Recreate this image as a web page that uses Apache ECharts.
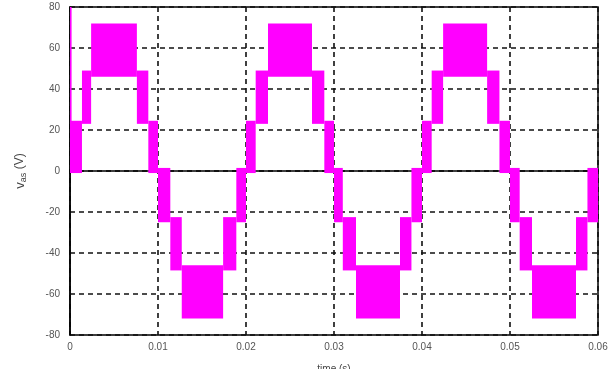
<!DOCTYPE html>
<html>
<head>
<meta charset="utf-8">
<script src="https://cdn.jsdelivr.net/npm/echarts@6/dist/echarts.min.js"></script>
<style>
  html, body { margin: 0; padding: 0; background: #fff; }
  #chart { width: 613px; height: 369px; }
</style>
</head>
<body>
<div id="chart"></div>
<script>
// switching instants (s), one band between each pair
const bandStart = [
  0, 0.00136, 0.0024, 0.0076, 0.0089,
  0.01, 0.0114, 0.0127, 0.0174, 0.0189,
  0.02, 0.0211, 0.0225, 0.0275, 0.0289,
  0.03, 0.0310, 0.0325, 0.0375, 0.0388,
  0.04, 0.0411, 0.0424, 0.0474, 0.0488,
  0.05, 0.0511, 0.0525, 0.0575, 0.0588
];
const bandEnd = [
  0.00136, 0.0024, 0.0076, 0.0089, 0.01,
  0.0114, 0.0127, 0.0174, 0.0189, 0.02,
  0.0211, 0.0225, 0.0275, 0.0289, 0.03,
  0.0310, 0.0325, 0.0375, 0.0388, 0.04,
  0.0411, 0.0424, 0.0474, 0.0488, 0.05,
  0.0511, 0.0525, 0.0575, 0.0588, 0.06
];
// PWM envelope of each band (V)
const bandLow = [
  -1, 23, 46, 23, -1,  -25, -48.5, -72, -48.5, -25,
  -1, 23, 46, 23, -1,  -25, -48.5, -72, -48.5, -25,
  -1, 23, 46, 23, -1,  -25, -48.5, -72, -48.5, -25
];
const bandHigh = [
  24.5, 49, 72, 49, 24.5,  1.5, -22.5, -46, -22.5, 1.5,
  24.5, 49, 72, 49, 24.5,  1.5, -22.5, -46, -22.5, 1.5,
  24.5, 49, 72, 49, 24.5,  1.5, -22.5, -46, -22.5, 1.5
];
// start-up spike at t = 0
const spike = [[0, 0.00018, 0, 80]];

const xTicks = [0, 0.01, 0.02, 0.03, 0.04, 0.05, 0.06];

const bands = bandStart.map((t, i) => [t, bandEnd[i], bandLow[i], bandHigh[i]]).concat(spike);

const myChart = echarts.init(document.getElementById('chart'));
const labelFont = { fontFamily: 'Liberation Sans, Arial, sans-serif', fontSize: 10, color: '#555' };
const gridLine = { show: true, lineStyle: { color: '#111', width: 1.6, type: [5, 4] } };

myChart.setOption({
  animation: false,
  grid: {
    left: 70, right: 15, top: 7, bottom: 34,
    containLabel: false, outerBoundsMode: 'none',
    show: true, borderColor: '#000', borderWidth: 1.5
  },
  xAxis: {
    type: 'value',
    min: 0, max: 0.06, interval: 0.01,
    axisLine: { lineStyle: { color: '#000', width: 1.5 } },
    axisTick: { show: false },
    axisLabel: Object.assign({ margin: 7, formatter: v => String(xTicks.find(t => Math.abs(t - v) < 1e-9) ?? v) }, labelFont),
    splitLine: gridLine,
    name: 'time (s)',
    nameLocation: 'middle',
    nameGap: 29,
    nameTextStyle: { fontFamily: 'Liberation Sans, Arial, sans-serif', fontSize: 10, color: '#444' }
  },
  yAxis: {
    type: 'value',
    min: -80, max: 80, interval: 20,
    axisLine: { show: true, lineStyle: { color: '#000', width: 1.5 } },
    axisTick: { show: false },
    axisLabel: Object.assign({ margin: 10 }, labelFont),
    splitLine: gridLine,
    name: '{v|v}{s|as} (V)',
    nameLocation: 'middle',
    nameGap: 42,
    nameTextStyle: {
      fontFamily: 'Liberation Sans, Arial, sans-serif', fontSize: 12, color: '#444',
      rich: {
        v: { fontSize: 13, color: '#444' },
        s: { fontSize: 9, color: '#444', verticalAlign: 'bottom', padding: [7, 0, 0, 0] }
      }
    }
  },
  series: [{
    type: 'custom',
    data: bands,
    encode: { x: [0, 1], y: [2, 3] },
    renderItem: (params, api) => {
      const p0 = api.coord([api.value(0), api.value(3)]);
      const p1 = api.coord([api.value(1), api.value(2)]);
      return {
        type: 'rect',
        shape: { x: p0[0], y: p0[1], width: Math.max(p1[0] - p0[0], 1.5), height: p1[1] - p0[1] },
        style: { fill: '#ff00ff' }
      };
    },
    z: 5
  }]
});
</script>
</body>
</html>
